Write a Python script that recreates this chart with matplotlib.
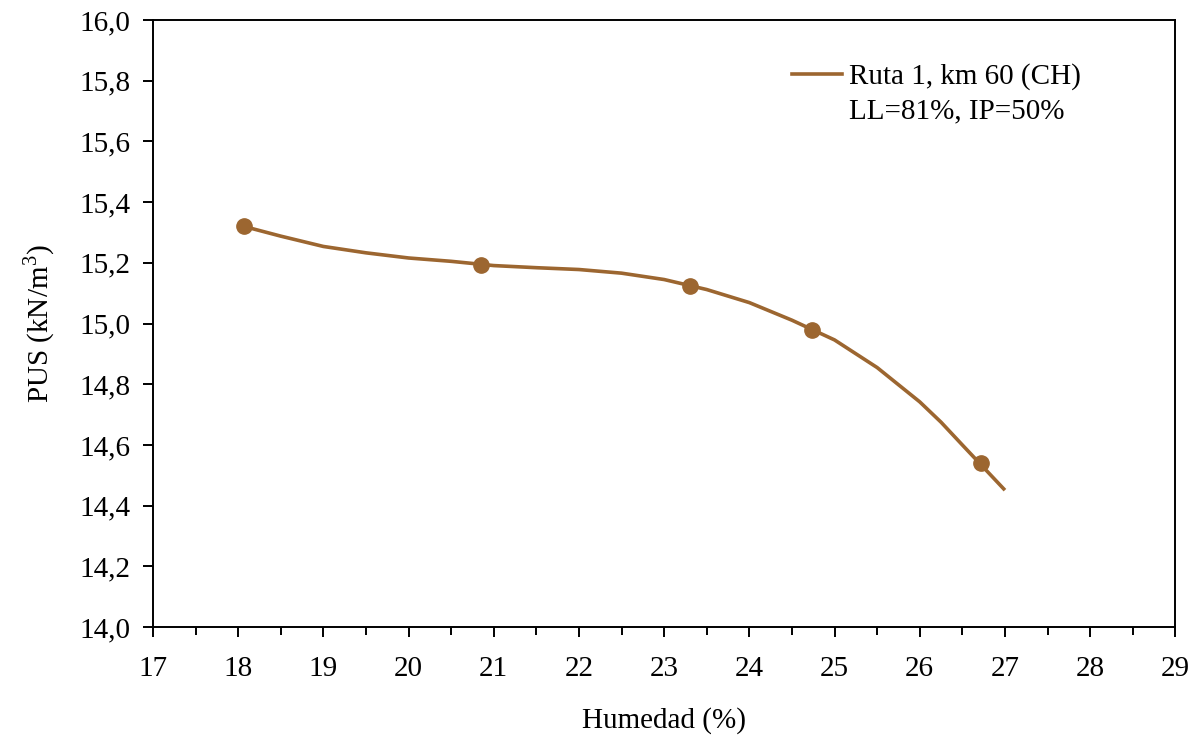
import matplotlib
matplotlib.use("Agg")
import matplotlib.pyplot as plt
from matplotlib.lines import Line2D
from matplotlib.ticker import MultipleLocator, FuncFormatter

plt.rcParams['font.family'] = ['Liberation Serif', 'DejaVu Serif']
plt.rcParams['mathtext.fontset'] = 'custom'
plt.rcParams['mathtext.rm'] = 'Liberation Serif'

# measured points (markers)
hum_pts = [18.07, 20.85, 23.30, 24.73, 26.72]
pus_pts = [15.320, 15.193, 15.124, 14.980, 14.540]

# fitted curve (line)
hum_fit = [18.0, 18.5, 19.0, 19.5, 20.0, 20.5, 21.0, 21.5, 22.0, 22.5, 23.0,
           23.5, 24.0, 24.5, 25.0, 25.5, 26.0, 26.25, 26.5, 27.0]
pus_fit = [15.325, 15.288, 15.254, 15.233, 15.216, 15.205, 15.191, 15.184,
           15.178, 15.166, 15.145, 15.112, 15.069, 15.011, 14.946, 14.855,
           14.742, 14.675, 14.600, 14.451]

color = '#9C6630'

fig = plt.figure(figsize=(11.93, 7.36), dpi=100)
ax = fig.add_axes([0.1282, 0.148, 0.857, 0.8248])

ax.plot(hum_fit, pus_fit, color=color, lw=2.6, solid_capstyle='butt')
ax.plot(hum_pts, pus_pts, 'o', color=color, ms=11, mec=color)

ax.set_xlim(17, 29)
ax.set_ylim(14.0, 16.0)
ax.xaxis.set_major_locator(MultipleLocator(1))
ax.xaxis.set_minor_locator(MultipleLocator(0.5))
ax.yaxis.set_major_locator(MultipleLocator(0.2))
ax.yaxis.set_major_formatter(FuncFormatter(lambda v, p: f"{v:.1f}".replace('.', ',')))

ax.tick_params(axis='both', which='major', direction='out', length=7, width=1.4,
               labelsize=21, colors='black')
ax.tick_params(axis='x', which='major', pad=14)
ax.tick_params(axis='y', which='major', pad=9)
ax.tick_params(axis='x', which='minor', direction='out', length=5.5, width=1.4)
for s in ax.spines.values():
    s.set_linewidth(1.4)

ax.set_xlabel('Humedad (%)', fontsize=21, labelpad=18)
ax.set_ylabel('PUS (kN/m$^{3}$)', fontsize=21, labelpad=16)

handles = [Line2D([], [], color=color, lw=2.6),
           Line2D([], [], color='none')]
labels = ['Ruta 1, km 60 (CH)', 'LL=81%, IP=50%']
ax.legend(handles, labels, loc='upper left', bbox_to_anchor=(0.625, 0.929),
          frameon=False, fontsize=21, handlelength=1.71, handletextpad=0.24,
          labelspacing=0.26, borderpad=0, borderaxespad=0)

fig.savefig('out.png', dpi=100)
